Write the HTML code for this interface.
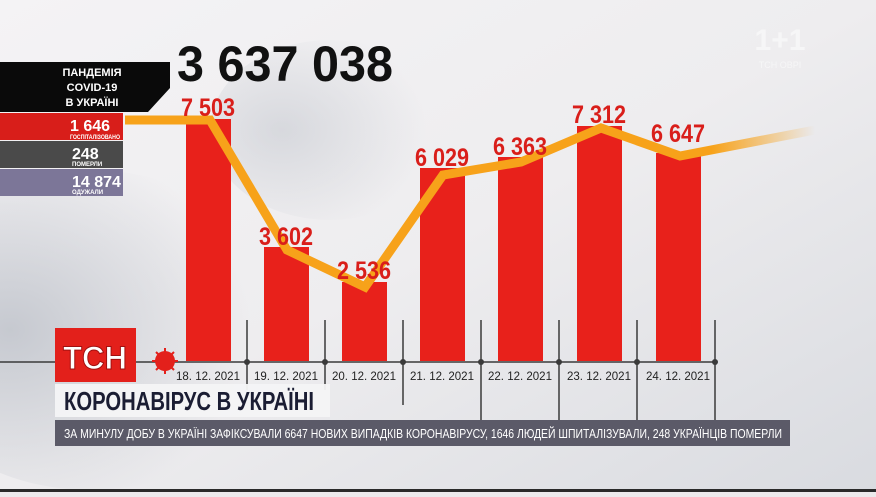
<!DOCTYPE html>
<html><head><meta charset="utf-8"><style>
html,body{margin:0;padding:0;}
body{width:876px;height:492px;overflow:hidden;background:#eceaec;font-family:"Liberation Sans","DejaVu Sans",sans-serif;}
svg text{font-family:"Liberation Sans","DejaVu Sans",sans-serif;}
</style></head><body>
<svg width="876" height="492" viewBox="0 0 876 492" xmlns="http://www.w3.org/2000/svg">
<defs>
<linearGradient id="bg" x1="0" y1="0" x2="1" y2="1">
<stop offset="0" stop-color="#f4f3f5"/><stop offset="0.5" stop-color="#eeedef"/><stop offset="1" stop-color="#d9dbe0"/>
</linearGradient>
<linearGradient id="fade" x1="0" y1="0" x2="1" y2="0">
<stop offset="0.85" stop-color="#f7a21a" stop-opacity="1"/><stop offset="1" stop-color="#f7a21a" stop-opacity="0"/>
</linearGradient>
<radialGradient id="blob" cx="0.3" cy="0.5" r="0.6">
<stop offset="0" stop-color="#c6c9d0"/><stop offset="1" stop-color="#c6c9d0" stop-opacity="0"/>
</radialGradient>
</defs>
<rect width="876" height="492" fill="url(#bg)"/>
<ellipse cx="90" cy="330" rx="200" ry="160" fill="url(#blob)"/>
<ellipse cx="330" cy="130" rx="120" ry="90" fill="url(#blob)" opacity="0.6"/>
<!-- logo -->
<text x="780" y="50" font-size="30" font-weight="bold" fill="#fff" opacity="0.5" text-anchor="middle">1+1</text>
<text x="780" y="68" font-size="9" fill="#fff" opacity="0.5" text-anchor="middle">ТСН ОВРІ</text>
<!-- big number -->
<text x="177" y="81" font-size="50" font-weight="bold" fill="#111" textLength="216" lengthAdjust="spacingAndGlyphs">3 637 038</text>
<!-- left panel -->
<polygon points="0,62 170,62 170,88 148,112 0,112" fill="#0a0a0a"/>
<text x="92" y="76" font-size="11" font-weight="bold" fill="#fff" text-anchor="middle">ПАНДЕМІЯ</text>
<text x="92" y="91" font-size="11" font-weight="bold" fill="#fff" text-anchor="middle">COVID-19</text>
<text x="92" y="106" font-size="11" font-weight="bold" fill="#fff" text-anchor="middle">В УКРАЇНІ</text>
<rect x="0" y="113" width="123" height="27" fill="#d81e1a"/>
<text x="70" y="131" font-size="16" font-weight="bold" fill="#fff">1 646</text>
<text x="70" y="139" font-size="6" font-weight="bold" fill="#fff" textLength="50" lengthAdjust="spacingAndGlyphs">ГОСПІТАЛІЗОВАНО</text>
<rect x="0" y="141" width="123" height="27" fill="#4a4a4a"/>
<text x="72" y="159" font-size="16" font-weight="bold" fill="#fff">248</text>
<text x="72" y="166" font-size="6" font-weight="bold" fill="#fff">ПОМЕРЛИ</text>
<rect x="0" y="169" width="123" height="27" fill="#7c7698"/>
<text x="72" y="187" font-size="16" font-weight="bold" fill="#fff">14 874</text>
<text x="72" y="194" font-size="6" font-weight="bold" fill="#fff">ОДУЖАЛИ</text>
<!-- axis -->
<line x1="0" y1="362" x2="716" y2="362" stroke="#3a3a3a" stroke-width="1.5"/>
<g stroke="#3a3a3a" stroke-width="1.5">
<line x1="247" y1="320" x2="247" y2="390"/><line x1="325" y1="320" x2="325" y2="390"/>
<line x1="403" y1="320" x2="403" y2="405"/><line x1="481" y1="320" x2="481" y2="420"/>
<line x1="559" y1="320" x2="559" y2="420"/><line x1="637" y1="320" x2="637" y2="420"/>
<line x1="715" y1="320" x2="715" y2="420"/>
</g>
<g fill="#3a3a3a"><circle cx="247" cy="362" r="3"/><circle cx="325" cy="362" r="3"/><circle cx="403" cy="362" r="3"/><circle cx="481" cy="362" r="3"/><circle cx="559" cy="362" r="3"/><circle cx="637" cy="362" r="3"/><circle cx="715" cy="362" r="3"/></g>
<!-- bars -->
<g fill="#e8211b">
<rect x="186" y="119" width="45" height="242"/>
<rect x="264" y="247" width="45" height="114"/>
<rect x="342" y="282" width="45" height="79"/>
<rect x="420" y="168" width="45" height="193"/>
<rect x="498" y="157" width="45" height="204"/>
<rect x="577" y="126" width="45" height="235"/>
<rect x="656" y="153" width="45" height="208"/>
</g>
<!-- line -->
<polyline points="125,120 210,120 287,250 365,287 443,175 521,162 601,128 680,156 815,130" fill="none" stroke="url(#fade)" stroke-width="9" stroke-linejoin="miter"/>
<!-- value labels -->
<g font-size="25" font-weight="bold" fill="#d91e1a" text-anchor="middle" lengthAdjust="spacingAndGlyphs">
<text x="208" y="116" textLength="54" lengthAdjust="spacingAndGlyphs">7 503</text>
<text x="286" y="245" textLength="54" lengthAdjust="spacingAndGlyphs">3 602</text>
<text x="364" y="279" textLength="54" lengthAdjust="spacingAndGlyphs">2 536</text>
<text x="442" y="166" textLength="54" lengthAdjust="spacingAndGlyphs">6 029</text>
<text x="520" y="155" textLength="54" lengthAdjust="spacingAndGlyphs">6 363</text>
<text x="599" y="123" textLength="54" lengthAdjust="spacingAndGlyphs">7 312</text>
<text x="678" y="142" textLength="54" lengthAdjust="spacingAndGlyphs">6 647</text>
</g>
<!-- dates -->
<g font-size="11.5" fill="#222" text-anchor="middle">
<text x="208" y="380">18. 12. 2021</text><text x="286" y="380">19. 12. 2021</text>
<text x="364" y="380">20. 12. 2021</text><text x="442" y="380">21. 12. 2021</text>
<text x="520" y="380">22. 12. 2021</text><text x="599" y="380">23. 12. 2021</text>
<text x="678" y="380">24. 12. 2021</text>
</g>
<!-- TCH -->
<rect x="55" y="328" width="81" height="54" fill="#e3201b"/>
<text x="95" y="369" font-size="32" font-weight="bold" fill="#fff" stroke="#a01010" stroke-width="1" text-anchor="middle" textLength="64" lengthAdjust="spacingAndGlyphs">ТСН</text>
<circle cx="165" cy="361" r="10" fill="#e3201b"/>
<g stroke="#e3201b" stroke-width="2"><line x1="152" y1="361" x2="178" y2="361"/><line x1="165" y1="348" x2="165" y2="374"/><line x1="156" y1="352" x2="174" y2="370"/><line x1="174" y1="352" x2="156" y2="370"/></g>
<!-- title -->
<rect x="55" y="384" width="275" height="33" fill="#f4f4f6" opacity="0.95"/>
<text x="64" y="410" font-size="26" font-weight="bold" fill="#1b1d33" textLength="250" lengthAdjust="spacingAndGlyphs">КОРОНАВІРУС В УКРАЇНІ</text>
<rect x="55" y="420" width="735" height="26" fill="#5b5a68"/>
<text x="64" y="438" font-size="12.5" fill="#fff" textLength="718" lengthAdjust="spacingAndGlyphs">ЗА МИНУЛУ ДОБУ В УКРАЇНІ ЗАФІКСУВАЛИ 6647 НОВИХ ВИПАДКІВ КОРОНАВІРУСУ, 1646 ЛЮДЕЙ ШПИТАЛІЗУВАЛИ, 248 УКРАЇНЦІВ ПОМЕРЛИ</text>
<rect x="0" y="489" width="876" height="3" fill="#2a2a2a"/>
</svg>
</body></html>
